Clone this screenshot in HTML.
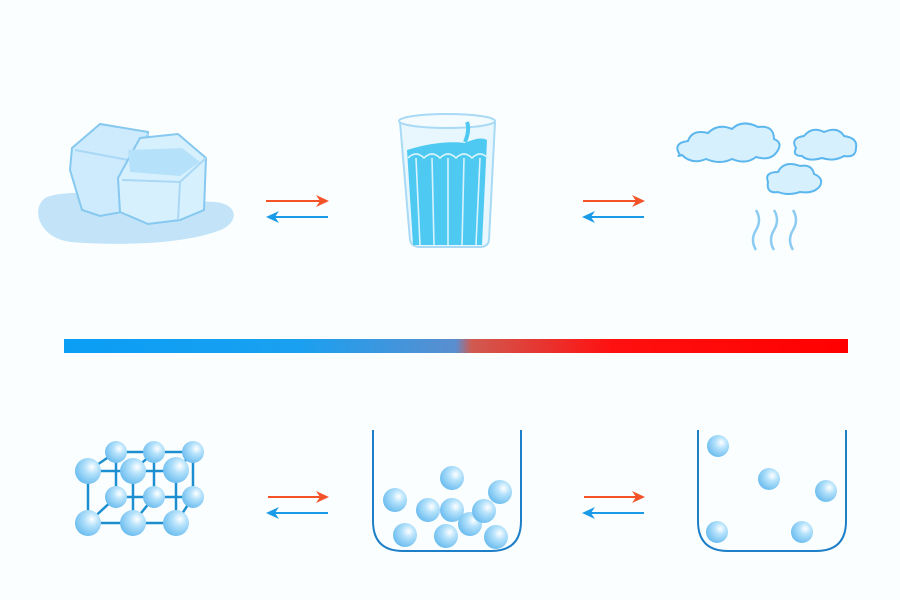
<!DOCTYPE html>
<html><head><style>body{margin:0;background:#fbfeff;}svg{display:block}</style></head><body>
<svg width="900" height="600" viewBox="0 0 900 600" xmlns="http://www.w3.org/2000/svg">
<defs>
<radialGradient id="ball" cx="0.65" cy="0.35" r="0.75"><stop offset="0" stop-color="#ffffff"/><stop offset="0.35" stop-color="#b5e2fb"/><stop offset="1" stop-color="#62b8ee"/></radialGradient>
<linearGradient id="bar" x1="0" x2="1"><stop offset="0" stop-color="#0a9ef5"/><stop offset="0.3" stop-color="#1aa0f0"/><stop offset="0.5" stop-color="#5a8ecf"/><stop offset="0.52" stop-color="#d05a50"/><stop offset="0.7" stop-color="#ff1010"/><stop offset="1" stop-color="#ff0000"/></linearGradient>
<marker id="mr" markerWidth="13" markerHeight="12" refX="11" refY="6" orient="auto" markerUnits="userSpaceOnUse"><path d="M0,0 L13,6 L0,12 L4,6z" fill="#f4532a"/></marker>
<marker id="mb" markerWidth="13" markerHeight="12" refX="11" refY="6" orient="auto" markerUnits="userSpaceOnUse"><path d="M0,0 L13,6 L0,12 L4,6z" fill="#1a9be8"/></marker>
</defs>
<rect width="900" height="600" fill="#fbfeff"/>
<path d="M45,198 C60,190 110,192 130,198 L215,202 C240,204 240,225 215,232 C180,244 120,246 70,242 C40,238 30,210 45,198z" fill="#c3e4f8"/>
<path d="M72,148 L100,124 L148,132 L146,168 L122,212 L100,216 L82,210 L70,170z" fill="#cdebfc" stroke="#86c8f0" stroke-width="2"/>
<path d="M75,150 L128,160 L148,134" fill="none" stroke="#a8d8f6" stroke-width="2"/>
<path d="M118,178 L140,138 L178,134 L206,158 L204,210 L180,220 L148,224 L120,212z" fill="#d7f0fd" stroke="#86c8f0" stroke-width="2"/>
<path d="M122,180 L180,182 L206,158 M180,182 L178,220" fill="none" stroke="#a8d8f6" stroke-width="2"/>
<path d="M128,150 L182,148 L200,162 L180,176 L130,172z" fill="#b6e1fa"/>
<path d="M400,122 L410,240 Q412,247 420,247 L480,247 Q488,247 489,240 L495,122" fill="#e8f6fe" stroke="#a8daf6" stroke-width="2"/>
<ellipse cx="447" cy="121" rx="48" ry="7" fill="#f4fbff" stroke="#a8daf6" stroke-width="2"/>
<path d="M407,150 Q440,140 465,143 Q480,136 487,140 L482,245 L413,245z" fill="#4ec9f2"/>
<path d="M408,158 q8,-8 16,0 q8,-8 16,0 q8,-8 16,0 q8,-8 16,0 q8,-8 16,0 M416,158 L420,245 M432,158 L434,245 M448,158 L448,245 M464,158 L462,245 M480,158 L476,245" fill="none" stroke="#d8f3fd" stroke-width="1.6"/>
<path d="M467,122 q3,8 -2,20" stroke="#4ec9f2" stroke-width="4" fill="none"/>
<g fill="#d7f0fd" stroke="#5cb7ee" stroke-width="2">
<path d="M680,155 q-8,-12 8,-14 q4,-12 20,-8 q10,-10 24,-4 q10,-10 26,-2 q16,-2 16,12 q10,4 2,14 q-6,8 -20,4 q-10,8 -24,2 q-12,6 -26,0 q-14,6 -24,-4 q-6,2 -2,0z"/>
<path d="M796,148 q-6,-10 8,-12 q8,-10 20,-4 q14,-6 20,4 q14,2 12,12 q0,10 -12,8 q-10,6 -22,2 q-14,4 -20,-2 q-10,0 -6,-8z"/>
<path d="M768,182 q-4,-10 10,-10 q6,-12 22,-6 q12,-2 14,8 q10,4 6,12 q-6,8 -20,6 q-12,4 -22,0 q-12,2 -10,-10z"/>
</g>
<g fill="none" stroke="#8ccbf2" stroke-width="2.5">
<path d="M756,210 q6,10 0,20 q-6,10 0,20"/><path d="M774,210 q6,10 0,20 q-6,10 0,20"/><path d="M793,210 q6,10 0,20 q-6,10 0,20"/>
</g>
<g stroke-width="2">
<line x1="266" y1="201" x2="327" y2="201" stroke="#f4532a" marker-end="url(#mr)"/>
<line x1="328" y1="217" x2="268" y2="217" stroke="#1a9be8" marker-end="url(#mb)"/>
<line x1="583" y1="201" x2="643" y2="201" stroke="#f4532a" marker-end="url(#mr)"/>
<line x1="644" y1="217" x2="584" y2="217" stroke="#1a9be8" marker-end="url(#mb)"/>
<line x1="268" y1="497" x2="327" y2="497" stroke="#f4532a" marker-end="url(#mr)"/>
<line x1="328" y1="513" x2="268" y2="513" stroke="#1a9be8" marker-end="url(#mb)"/>
<line x1="584" y1="497" x2="643" y2="497" stroke="#f4532a" marker-end="url(#mr)"/>
<line x1="644" y1="513" x2="584" y2="513" stroke="#1a9be8" marker-end="url(#mb)"/>
</g>
<rect x="64" y="339" width="784" height="14" fill="url(#bar)"/>
<g stroke="#1d8fd0" stroke-width="2.5" fill="none">
<path d="M116,452 H193 V497 H116z M154,452 V497 M116,497 L88,523 M193,497 L176,523 M154,497 L133,523 M116,452 L88,471 M193,452 L176,471 M154,452 L133,471"/>
<path d="M88,471 H176 V523 H88z M133,471 V523"/>
</g>
<g fill="url(#ball)">
<circle cx="116" cy="452" r="11"/><circle cx="154" cy="452" r="11"/><circle cx="193" cy="452" r="11"/>
<circle cx="116" cy="497" r="11"/><circle cx="154" cy="497" r="11"/><circle cx="193" cy="497" r="11"/>
<circle cx="88" cy="471" r="13"/><circle cx="133" cy="471" r="13"/><circle cx="176" cy="470" r="13"/>
<circle cx="88" cy="523" r="13"/><circle cx="133" cy="523" r="13"/><circle cx="176" cy="523" r="13"/>
</g>
<path d="M373,430 V521 Q373,551 403,551 H491 Q521,551 521,521 V430" fill="none" stroke="#1d7fc8" stroke-width="2"/>
<path d="M698,430 V521 Q698,551 728,551 H816 Q846,551 846,521 V430" fill="none" stroke="#1d7fc8" stroke-width="2"/>
<g fill="url(#ball)">
<circle cx="395" cy="500" r="12"/><circle cx="452" cy="478" r="12"/><circle cx="500" cy="492" r="12"/>
<circle cx="428" cy="510" r="12"/><circle cx="452" cy="510" r="12"/><circle cx="470" cy="524" r="12"/>
<circle cx="484" cy="511" r="12"/><circle cx="405" cy="535" r="12"/><circle cx="446" cy="536" r="12"/><circle cx="496" cy="537" r="12"/>
<circle cx="718" cy="446" r="11"/><circle cx="769" cy="479" r="11"/><circle cx="826" cy="491" r="11"/><circle cx="717" cy="532" r="11"/><circle cx="802" cy="532" r="11"/>
</g>
</svg>
</body></html>
